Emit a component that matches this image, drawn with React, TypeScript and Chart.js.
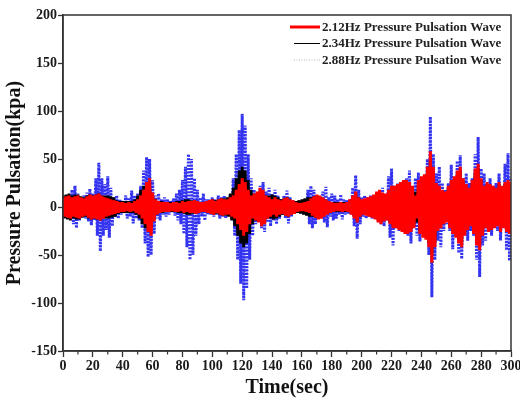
import { useEffect, useRef } from "react";
import { Chart, registerables } from "chart.js";

Chart.register(...registerables);

// ---- axis ranges / labels ----
const X_MIN = 0;
const X_MAX = 300;
const Y_MIN = -150;
const Y_MAX = 200;
const X_MAJOR_STEP = 20;
const X_MINOR_STEP = 10;
const Y_STEP = 50;
const xTitle = "Time(sec)";
const yTitle = "Pressure Pulsation(kpa)";

// ---- series ----
const seriesNames = [
  "2.12Hz Pressure Pulsation Wave",
  "2.34Hz Pressure Pulsation Wave",
  "2.88Hz Pressure Pulsation Wave",
];
const seriesColors = ["#ff0000", "#000000", "#3434f0"];

// Seconds between successive envelope readings (peak at t, trough at t + STEP/2)
const SAMPLE_STEP = 2;

// Peak amplitude (kpa) read every 2 s, t = 0 .. 300
const redAmp = [
  10, 11, 12, 10, 11, 12, 10, 9, 11, 13,
  12, 13, 14, 12, 10, 9, 8, 7, 6, 5,
  5, 4, 5, 4, 6, 8, 12, 18, 26, 30,
  15, 8, 6, 5, 5, 5, 4, 5, 5, 4,
  6, 5, 6, 6, 7, 6, 5, 5, 6, 7,
  8, 6, 8, 9, 8, 8, 10, 12, 18, 24,
  30, 26, 18, 12, 14, 16, 20, 18, 12, 10,
  8, 10, 8, 7, 9, 10, 8, 7, 5, 4,
  4, 5, 6, 9, 11, 13, 12, 10, 8, 6,
  5, 4, 4, 5, 4, 5, 8, 12, 16, 10,
  8, 9, 10, 11, 13, 16, 18, 15, 14, 18,
  22, 22, 24, 26, 28, 28, 26, 22, 12, 28,
  32, 34, 42, 58, 42, 25, 22, 18, 16, 22,
  28, 32, 38, 42, 30, 24, 20, 28, 40, 45,
  30, 22, 26, 24, 22, 20, 26, 22, 26, 28,
  26,
];

const blackAmp = [
  12, 13, 14, 12, 13, 13, 11, 10, 12, 13,
  12, 13, 14, 12, 12, 12, 11, 10, 7, 6,
  6, 6, 6, 6, 8, 12, 18, 22, 24, 22,
  12, 8, 6, 6, 5, 5, 5, 5, 6, 6,
  7, 8, 8, 7, 7, 6, 5, 5, 6, 7,
  8, 7, 8, 9, 9, 10, 14, 20, 30, 38,
  42, 38, 28, 18, 14, 14, 16, 14, 12, 12,
  13, 12, 10, 8, 9, 10, 8, 6, 6, 7,
  8, 9, 10, 10, 11, 12, 11, 9, 7, 6,
  5, 5, 5, 5, 5, 5, 7, 10, 14, 10,
  7, 8, 9, 10, 11, 14, 16, 13, 12, 16,
  20, 20, 22, 24, 25, 25, 24, 20, 16, 25,
  28, 30, 38, 50, 38, 22, 20, 16, 14, 20,
  25, 28, 34, 38, 27, 22, 18, 25, 36, 40,
  28, 20, 24, 22, 20, 18, 24, 20, 24, 25,
  24,
];

const blueAmp = [
  8, 10, 12, 18, 22, 14, 8, 12, 15, 19,
  14, 30, 46, 30, 24, 32, 20, 10, 12, 8,
  7, 12, 10, 17, 12, 14, 22, 38, 52, 50,
  28, 12, 14, 8, 10, 8, 6, 9, 14, 18,
  28, 42, 55, 50, 30, 18, 10, 14, 8, 8,
  10, 8, 12, 10, 12, 9, 12, 30, 55, 80,
  97, 85, 55, 30, 18, 15, 22, 26, 16, 20,
  14, 18, 12, 8, 12, 17, 10, 7, 6, 6,
  5, 8, 18, 22, 18, 12, 10, 16, 21, 10,
  14, 12, 8, 13, 8, 7, 8, 20, 33, 18,
  10, 12, 10, 12, 9, 12, 18, 20, 14, 32,
  40, 22, 25, 15, 20, 30, 38, 22, 30, 36,
  20, 25, 50, 94, 55, 35, 42, 25, 18, 25,
  44, 30, 48, 54, 30, 35, 25, 30, 55, 73,
  40, 35, 20, 30, 22, 25, 35, 20, 45, 56,
  30,
];

// Oscillating trace: each reading gives a crest at t and a trough at t + STEP/2
function toWave(amp: number[]) {
  const pts: { x: number; y: number }[] = [];
  amp.forEach((a, i) => {
    const t = X_MIN + i * SAMPLE_STEP;
    pts.push({ x: t, y: a });
    if (t + SAMPLE_STEP / 2 <= X_MAX) pts.push({ x: t + SAMPLE_STEP / 2, y: -a });
  });
  return pts;
}

const SERIF = "'Liberation Serif', 'Times New Roman', serif";
const AXIS_COLOR = "#333333";

const framePlugin = {
  id: "frameAndLegend",
  afterDatasetsDraw(chart: any) {
    const { ctx, chartArea } = chart;
    const xs = chart.scales.x;
    ctx.save();
    // box frame
    ctx.strokeStyle = AXIS_COLOR;
    ctx.lineWidth = 1.5;
    ctx.strokeRect(chartArea.left, chartArea.top, chartArea.right - chartArea.left, chartArea.bottom - chartArea.top);
    // minor x ticks
    ctx.lineWidth = 1.2;
    for (let v = X_MIN + X_MINOR_STEP; v < X_MAX; v += X_MAJOR_STEP) {
      const px = xs.getPixelForValue(v);
      ctx.beginPath();
      ctx.moveTo(px, chartArea.bottom);
      ctx.lineTo(px, chartArea.bottom + 3.5);
      ctx.stroke();
    }
    // legend
    const textX = chartArea.right - 189;
    const rowY = [chartArea.top + 12, chartArea.top + 28.5, chartArea.top + 45];
    ctx.font = `bold 13px ${SERIF}`;
    ctx.textBaseline = "middle";
    ctx.textAlign = "left";
    seriesNames.forEach((name, i) => {
      const y = rowY[i];
      ctx.beginPath();
      ctx.strokeStyle = i === 2 ? "#b8b8c8" : seriesColors[i];
      ctx.lineWidth = i === 0 ? 3 : 1;
      ctx.setLineDash(i === 2 ? [1, 1.5] : []);
      ctx.moveTo(textX - (i === 0 ? 32 : 28), y);
      ctx.lineTo(textX - 2, y);
      ctx.stroke();
      ctx.setLineDash([]);
      ctx.fillStyle = "#222222";
      ctx.fillText(name, textX, y + 0.5);
    });
    ctx.restore();
  },
};

export default function App() {
  const canvasRef = useRef<HTMLCanvasElement | null>(null);

  useEffect(() => {
    if (!canvasRef.current) return;
    const chart = new Chart(canvasRef.current, {
      type: "line",
      data: {
        datasets: [
          {
            label: seriesNames[0],
            data: toWave(redAmp),
            borderColor: seriesColors[0],
            borderWidth: 3,
            borderJoinStyle: "bevel",
            pointRadius: 0,
            tension: 0,
          },
          {
            label: seriesNames[1],
            data: toWave(blackAmp),
            borderColor: seriesColors[1],
            borderWidth: 2.8,
            borderJoinStyle: "bevel",
            pointRadius: 0,
            tension: 0,
          },
          {
            label: seriesNames[2],
            data: toWave(blueAmp),
            borderColor: seriesColors[2],
            borderWidth: 3,
            borderJoinStyle: "bevel",
            borderDash: [2, 1.3],
            pointRadius: 0,
            tension: 0,
          },
        ],
      },
      options: {
        animation: false,
        responsive: false,
        devicePixelRatio: 1,
        layout: { padding: { left: 0, right: 9, top: 15, bottom: 0 } },
        plugins: {
          legend: { display: false },
          tooltip: { enabled: false },
        },
        scales: {
          x: {
            type: "linear",
            min: X_MIN,
            max: X_MAX,
            ticks: {
              stepSize: X_MAJOR_STEP,
              autoSkip: false,
              maxRotation: 0,
              padding: 1,
              color: "#1a1a1a",
              font: { family: SERIF, weight: "bold", size: 14 },
            },
            grid: {
              drawOnChartArea: false,
              drawTicks: true,
              tickLength: 6,
              tickColor: AXIS_COLOR,
              tickWidth: 1.3,
            },
            border: { color: AXIS_COLOR, width: 1.5 },
            title: {
              display: true,
              text: xTitle,
              color: "#111111",
              font: { family: SERIF, weight: "bold", size: 20 },
              padding: { top: 0, bottom: 0 },
            },
            afterFit(scale: any) {
              scale.height = 49;
              scale.paddingLeft = 0;
              scale.paddingRight = 0;
            },
          },
          y: {
            type: "linear",
            min: Y_MIN,
            max: Y_MAX,
            ticks: {
              stepSize: Y_STEP,
              padding: 1,
              color: "#1a1a1a",
              font: { family: SERIF, weight: "bold", size: 14 },
            },
            grid: {
              drawOnChartArea: false,
              drawTicks: true,
              tickLength: 5,
              tickColor: AXIS_COLOR,
              tickWidth: 1.3,
            },
            border: { color: AXIS_COLOR, width: 1.5 },
            title: {
              display: true,
              text: yTitle,
              color: "#111111",
              font: { family: SERIF, weight: "bold", size: 20 },
              padding: { top: 3, bottom: 0 },
            },
            afterFit(scale: any) {
              scale.width = 63;
              scale.paddingTop = 0;
              scale.paddingBottom = 0;
            },
          },
        },
      } as any,
      plugins: [framePlugin],
    });
    return () => chart.destroy();
  }, []);

  return (
    <div style={{ position: "absolute", left: 0, top: 0, width: 520, height: 400, background: "#ffffff" }}>
      <canvas ref={canvasRef} width={520} height={400} />
    </div>
  );
}
